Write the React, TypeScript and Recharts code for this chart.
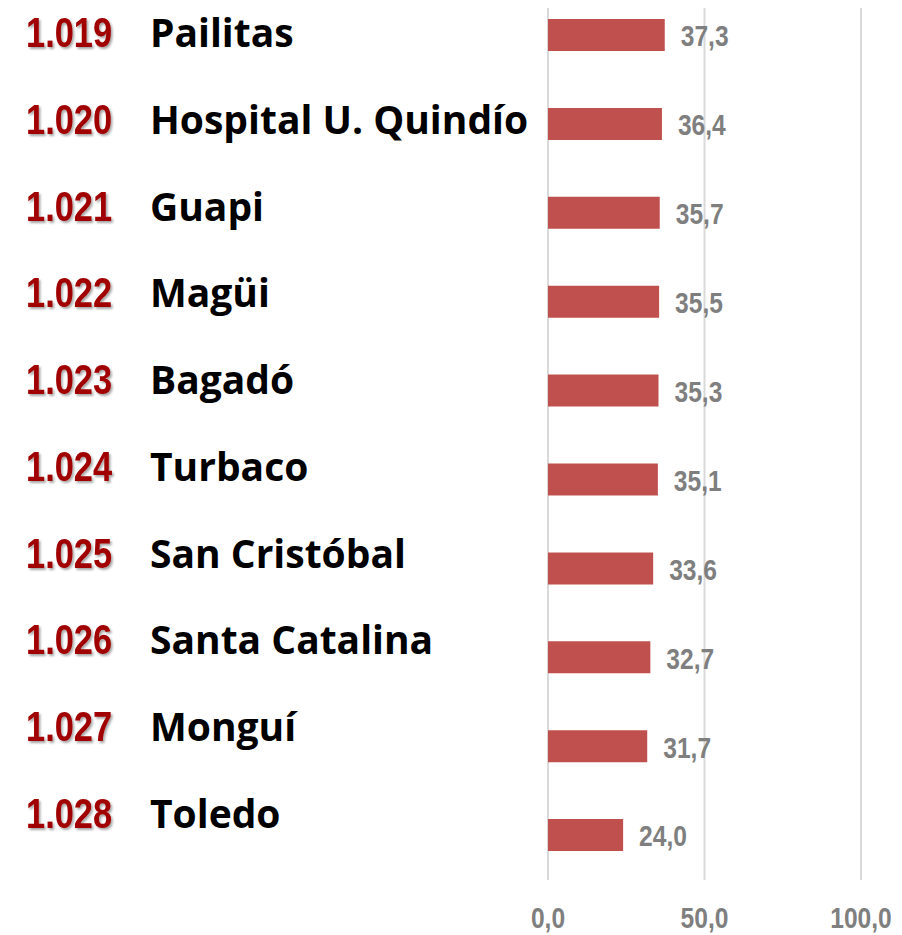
import { BarChart, Bar, XAxis, YAxis, CartesianGrid, LabelList } from 'recharts';

const ranks = ['1.019', '1.020', '1.021', '1.022', '1.023', '1.024', '1.025', '1.026', '1.027', '1.028'];
const names = [
  'Pailitas',
  'Hospital U. Quindío',
  'Guapi',
  'Magüi',
  'Bagadó',
  'Turbaco',
  'San Cristóbal',
  'Santa Catalina',
  'Monguí',
  'Toledo',
];
const values = [37.3, 36.4, 35.7, 35.5, 35.3, 35.1, 33.6, 32.7, 31.7, 24.0];
const xTicks = [0, 50, 100];

const data = names.map((name, i) => ({ name, rank: ranks[i], value: values[i] }));

const SANS = '"Liberation Sans", Arial, sans-serif';
const NAME_FONT = '"Open Sans", "Noto Sans", sans-serif';
const GREY = '#7f7f7f';

const fmt = (v: number) => v.toFixed(1).replace('.', ',');

// no Arial Narrow here, so squeeze Liberation Sans the same way
function NarrowText({ x, y, children, ...rest }: any) {
  return (
    <text transform={`translate(${x},${y}) scale(0.82,1)`} fontFamily={SANS} fontWeight="bold" {...rest}>
      {children}
    </text>
  );
}

function NameTick(props: any) {
  const { y, payload, index } = props;
  // the text column drifts a little upward relative to the bars
  const base = y + 12 - (20 * index) / 9;
  return (
    <g>
      <NarrowText x={26} y={base} fill="#a00000" fontSize={42} filter="url(#rankShadow)">
        {ranks[index]}
      </NarrowText>
      <text x={150} y={base} fill="#000" fontFamily={NAME_FONT} fontWeight="bold" fontSize={39}>
        {payload.value}
      </text>
    </g>
  );
}

function AxisTick(props: any) {
  const { x, y, payload } = props;
  return (
    <NarrowText x={x} y={y + 38} fill={GREY} fontSize={30} textAnchor="middle" dominantBaseline="central">
      {fmt(payload.value)}
    </NarrowText>
  );
}

function ValueLabel(props: any) {
  const { x, y, width, height, value } = props;
  return (
    <NarrowText x={x + width + 16} y={y + height / 2 + 1} fill={GREY} fontSize={30} dominantBaseline="central">
      {fmt(Number(value))}
    </NarrowText>
  );
}

export default function App() {
  return (
    <div style={{ marginTop: -17, marginLeft: -8, width: 902 }}>
      <svg width={0} height={0} style={{ position: 'absolute' }}>
        <defs>
          <filter id="rankShadow" x="-10%" y="-10%" width="130%" height="140%">
            <feDropShadow dx={2} dy={2} stdDeviation={1.2} floodColor="#000" floodOpacity={0.35} />
          </filter>
        </defs>
      </svg>
      <BarChart
        width={902}
        height={944}
        layout="vertical"
        data={data}
        margin={{ top: 0, right: 41, bottom: 0, left: 0 }}
      >
        <CartesianGrid horizontal={false} stroke="#d9d9d9" strokeWidth={2} />
        <XAxis
          type="number"
          domain={[0, 100]}
          ticks={xTicks}
          axisLine={false}
          tickLine={false}
          tickSize={0}
          tickMargin={0}
          height={55}
          interval={0}
          tick={<AxisTick />}
        />
        <YAxis
          type="category"
          dataKey="name"
          width={548}
          axisLine={false}
          tickLine={false}
          interval={0}
          tick={<NameTick />}
        />
        <Bar dataKey="value" fill="#c0504d" barSize={32} isAnimationActive={false}>
          <LabelList dataKey="value" content={<ValueLabel />} />
        </Bar>
      </BarChart>
    </div>
  );
}
